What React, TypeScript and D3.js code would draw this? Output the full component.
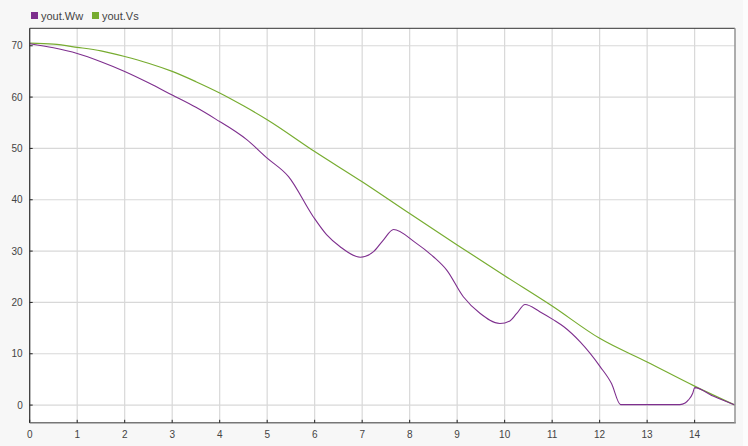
import React from "react";
import * as d3 from "d3";

const seriesNames = ["yout.Ww", "yout.Vs"];
const seriesColors = ["#7e2f8e", "#77ac30"];

const timeWw = [0, 0.5, 1, 1.5, 2, 2.5, 3, 3.5, 3.9, 4.57, 5, 5.45, 5.97, 6.25, 6.53, 6.96, 7.24, 7.45, 7.66, 8.1, 8.5, 8.78, 9.13, 9.48, 9.9, 10.11, 10.25, 10.43, 10.74, 11.03, 11.24, 11.59, 12.01, 12.25, 12.44, 13.0, 13.69, 13.8, 13.87, 13.96, 14.0, 14.4, 14.85];
const valueWw = [70.4, 69.6, 68.5, 66.9, 65.0, 62.8, 60.4, 58.0, 55.8, 51.7, 48.1, 44.5, 36.7, 33.2, 30.9, 28.8, 29.9, 32.2, 34.2, 31.8, 28.9, 26.3, 21.1, 17.9, 15.9, 16.4, 17.8, 19.6, 18.2, 16.6, 15.3, 12.3, 7.5, 4.2, 0.1, 0.1, 0.1, 0.4, 1.0, 2.3, 3.4, 1.7, 0.0];

const timeVs = [0, 0.5, 1, 1.5, 2, 2.5, 3, 3.5, 4, 4.5, 5, 6, 7, 8, 9, 10, 11, 12, 13, 14, 14.85];
const valueVs = [70.5, 70.3, 69.7, 69.0, 67.9, 66.6, 65.0, 63.0, 60.8, 58.3, 55.6, 49.4, 43.5, 37.3, 31.2, 25.2, 19.3, 13.0, 8.4, 3.7, 0.0];

const xTicks = [0, 1, 2, 3, 4, 5, 6, 7, 8, 9, 10, 11, 12, 13, 14];
const yTicks = [0, 10, 20, 30, 40, 50, 60, 70];

const W = 748, H = 446;
const L = 29.7, R = 735, T = 28.3, B = 422.8;

export default function App() {
  const x = d3.scaleLinear().domain([0, 14.85]).range([L, R]);
  const y = d3.scaleLinear().domain([-3.45, 73.4]).range([B, T]);
  const line = d3.line<[number, number]>().x(d => x(d[0])).y(d => y(d[1])).curve(d3.curveMonotoneX);
  const ww = timeWw.map((t, i) => [t, valueWw[i]] as [number, number]);
  const vs = timeVs.map((t, i) => [t, valueVs[i]] as [number, number]);
  const font = "'Liberation Sans', Arial, sans-serif";
  return (
    <svg width={W} height={H} style={{ position: "absolute", left: 0, top: 0 }} fontFamily={font}>
      <rect x={0} y={0} width={W} height={H} fill="#f7f7f7" />
      <rect x={743} y={0} width={5} height={H} fill="#fcfcfc" />
      <rect x={L} y={T} width={R - L} height={B - T} fill="#ffffff" />
      {xTicks.map(t => (
        <line key={"gx" + t} x1={x(t)} x2={x(t)} y1={T} y2={B} stroke="#d8d8d8" strokeWidth={1.2} />
      ))}
      {yTicks.map(v => (
        <line key={"gy" + v} x1={L} x2={R} y1={y(v)} y2={y(v)} stroke="#d8d8d8" strokeWidth={1.2} />
      ))}
      <path d={line(vs) || ""} fill="none" stroke={seriesColors[1]} strokeWidth={1.2} />
      <path d={line(ww) || ""} fill="none" stroke={seriesColors[0]} strokeWidth={1.1} />
      <line x1={L} x2={R} y1={T} y2={T} stroke="#333" strokeWidth={1} />
      <line x1={L} x2={L} y1={T} y2={B} stroke="#333" strokeWidth={1.2} />
      <line x1={L} x2={R + 0.8} y1={B} y2={B} stroke="#777" strokeWidth={1.6} />
      <line x1={R} x2={R} y1={T} y2={B} stroke="#999" strokeWidth={1.6} />
      {xTicks.map(t => (
        <g key={"tx" + t}>
          <line x1={x(t)} x2={x(t)} y1={B - 3} y2={B} stroke="#222" strokeWidth={1} />
          <text x={x(t)} y={B + 15} textAnchor="middle" fontSize={10} fill="#444">{t}</text>
        </g>
      ))}
      {yTicks.map(v => (
        <g key={"ty" + v}>
          <line x1={L} x2={L + 3} y1={y(v)} y2={y(v)} stroke="#222" strokeWidth={1} />
          <text x={L - 7} y={y(v) + 3.5} textAnchor="end" fontSize={10} fill="#444">{v}</text>
        </g>
      ))}
      {seriesNames.map((n, i) => (
        <g key={n} transform={`translate(${31 + i * 61},12)`}>
          <rect x={0} y={0} width={7} height={7} fill={seriesColors[i]} />
          <text x={10} y={7.5} fontSize={11} fill="#444">{n}</text>
        </g>
      ))}
    </svg>
  );
}
